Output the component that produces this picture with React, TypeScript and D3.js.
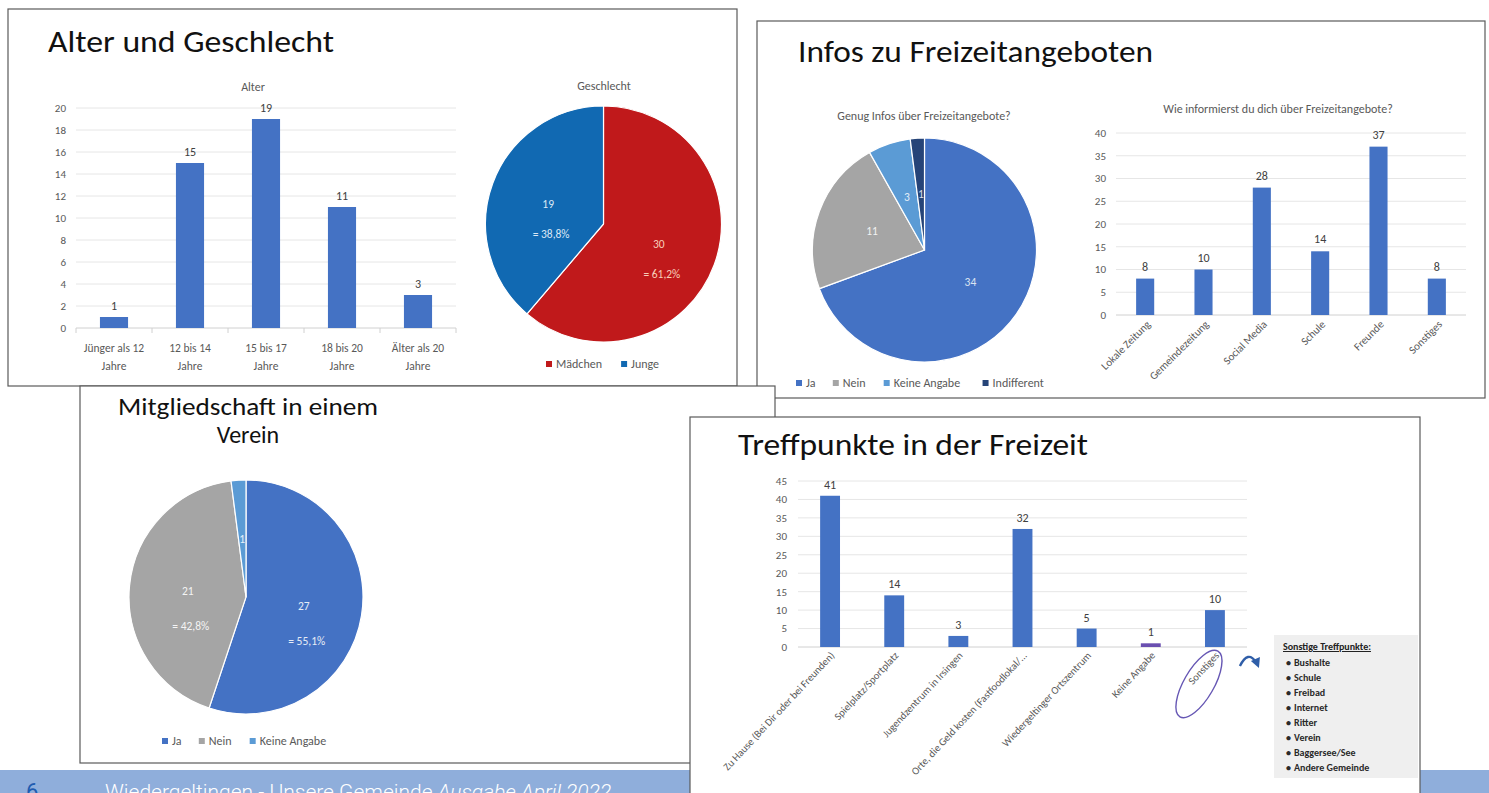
import React from "react";
import * as d3 from "d3";

const FONT = "Carlito, Lato, 'Open Sans', sans-serif";

// Alter und Geschlecht
const ageGroups = ["Jünger als 12 Jahre", "12 bis 14 Jahre", "15 bis 17 Jahre", "18 bis 20 Jahre", "Älter als 20 Jahre"];
const ageCounts = [1, 15, 19, 11, 3];
const ageTicks = [0, 2, 4, 6, 8, 10, 12, 14, 16, 18, 20];
const genderNames = ["Mädchen", "Junge"];
const genderCounts = [30, 19];
const genderShares = ["= 61,2%", "= 38,8%"];
const genderColors = ["#C0191B", "#1169B2"];

// Infos zu Freizeitangeboten
const infoAnswers = ["Ja", "Nein", "Keine Angabe", "Indifferent"];
const infoCounts = [34, 11, 3, 1];
const answerColors = ["#4472C4", "#A5A5A5", "#5B9BD5", "#264478"];
const channelNames = ["Lokale Zeitung", "Gemeindezeitung", "Social Media", "Schule", "Freunde", "Sonstiges"];
const channelCounts = [8, 10, 28, 14, 37, 8];
const channelTicks = [0, 5, 10, 15, 20, 25, 30, 35, 40];

// Mitgliedschaft in einem Verein
const clubAnswers = ["Ja", "Nein", "Keine Angabe"];
const clubCounts = [27, 21, 1];
const clubShares = ["= 55,1%", "= 42,8%", ""];

// Treffpunkte in der Freizeit
const placeNames = [
  "Zu Hause (Bei Dir oder bei Freunden)",
  "Spielplatz/Sportplatz",
  "Jugendzentrum in Irsingen",
  "Orte, die Geld kosten (Fastfoodlokal/...",
  "Wiedergeltinger Ortszentrum",
  "Keine Angabe",
  "Sonstiges",
];
const placeCounts = [41, 14, 3, 32, 5, 1, 10];
const placeTicks = [0, 5, 10, 15, 20, 25, 30, 35, 40, 45];
const otherPlaces = ["Bushalte", "Schule", "Freibad", "Internet", "Ritter", "Verein", "Baggersee/See", "Andere Gemeinde"];

const BLUE = "#4472C4";
const GREY_TEXT = "#595959";

let ctx: CanvasRenderingContext2D | null = null;
function textWidth(s: string, size: number) {
  if (!ctx) ctx = document.createElement("canvas").getContext("2d");
  if (!ctx) return s.length * size * 0.5;
  ctx.font = `${size}px Lato`;
  return ctx.measureText(s).width;
}

type BarProps = {
  names: string[];
  counts: number[];
  ticks: number[];
  left: number;
  right: number;
  top: number;
  bottom: number;
  pad: number;
  tickX: number;
  valueGap: number;
  color: (i: number) => string;
  catLabel: (name: string, cx: number, i: number) => React.ReactNode;
  catTicks?: boolean;
};

function BarChart(p: BarProps) {
  const x = d3.scaleBand<string>().domain(p.names).range([p.left, p.right]).paddingInner(p.pad).paddingOuter(p.pad / 2);
  const y = d3.scaleLinear().domain([0, d3.max(p.ticks)!]).range([p.bottom, p.top]);
  const bw = x.bandwidth();
  return (
    <g>
      {p.ticks.map((t) => (
        <g key={t}>
          <line x1={p.left} x2={p.right} y1={y(t)} y2={y(t)} stroke={t === 0 ? "#D0D0D0" : "#E6E6E6"} />
          <text x={p.tickX} y={y(t)} dy="0.35em" textAnchor="end" fontSize={11} fill={GREY_TEXT}>{t}</text>
        </g>
      ))}
      {p.catTicks &&
        d3.range(p.names.length + 1).map((i) => {
          const xx = p.left + i * x.step();
          return <line key={i} x1={xx} x2={xx} y1={y(0)} y2={y(0) + 5} stroke="#D0D0D0" />;
        })}
      {p.names.map((n, i) => {
        const v = p.counts[i];
        const x0 = x(n)!;
        return (
          <g key={n}>
            <rect x={x0} y={y(v)} width={bw} height={y(0) - y(v)} fill={p.color(i)} />
            <text x={x0 + bw / 2} y={y(v) - p.valueGap} textAnchor="middle" fontSize={12} fill="#404040">{v}</text>
            {p.catLabel(n, x0 + bw / 2, i)}
          </g>
        );
      })}
    </g>
  );
}

type PieProps = {
  cx: number;
  cy: number;
  r: number;
  counts: number[];
  colors: string[];
  shares?: string[];
  labelColors: string[];
  subDy: number;
};

function Pie(p: PieProps) {
  const arcs = d3.pie<number>().sort(null).value((d) => d)(p.counts);
  const arc = d3.arc<d3.PieArcDatum<number>>().innerRadius(0).outerRadius(p.r);
  const lab = d3.arc<d3.PieArcDatum<number>>().innerRadius(p.r * 0.5).outerRadius(p.r * 0.5);
  return (
    <g transform={`translate(${p.cx},${p.cy})`}>
      {arcs.map((a, i) => (
        <path key={i} d={arc(a)!} fill={p.colors[i]} stroke="#fff" strokeWidth={1.2} />
      ))}
      {arcs.map((a, i) => {
        const [lx, ly] = lab.centroid(a);
        return (
          <g key={"l" + i} fill={p.labelColors[i]} fontSize={11.5} textAnchor="middle">
            <text x={lx} y={ly} dy="0.35em">{a.data}</text>
            {p.shares && p.shares[i] && (
              <text x={lx + 3} y={ly + p.subDy} dy="0.35em">{p.shares[i]}</text>
            )}
          </g>
        );
      })}
    </g>
  );
}

function Legend({ x, y, names, colors }: { x: number; y: number; names: string[]; colors: string[] }) {
  let cur = x;
  const items = names.map((n, i) => {
    const x0 = cur;
    cur += 6 + 4 + textWidth(n, 12) + 16;
    return (
      <g key={n}>
        <rect x={x0} y={y - 3} width={6} height={6} fill={colors[i]} />
        <text x={x0 + 10} y={y} dy="0.35em" fontSize={12} fill={GREY_TEXT}>{n}</text>
      </g>
    );
  });
  return <g>{items}</g>;
}

function Panel({ x, y, w, h }: { x: number; y: number; w: number; h: number }) {
  return <rect x={x} y={y} width={w} height={h} fill="#fff" stroke="#5A5A5A" strokeWidth={1.2} />;
}

export default function App() {
  const placeX = d3.scaleBand<string>().domain(placeNames).range([798, 1247]).paddingInner(0.69).paddingOuter(0.345);
  const otherCx = placeX("Sonstiges")! + placeX.bandwidth() / 2;

  return (
    <svg width={1489} height={793} style={{ position: "fixed", left: 0, top: 0 }} fontFamily={FONT}>
      <rect width={1489} height={793} fill="#fff" />

      {/* Alter und Geschlecht */}
      <Panel x={8} y={9} w={729} h={377} />
      <text x={48} y={52} fontSize={30} fill="#111" textLength={286} lengthAdjust="spacingAndGlyphs">Alter und Geschlecht</text>
      <text x={253} y={91} textAnchor="middle" fontSize={12} fill={GREY_TEXT}>Alter</text>
      <BarChart
        names={ageGroups}
        counts={ageCounts}
        ticks={ageTicks}
        left={76}
        right={456}
        top={108}
        bottom={328}
        pad={0.63}
        tickX={66}
        valueGap={7}
        catTicks
        color={() => BLUE}
        catLabel={(n, cx) => {
          const parts = n.split(" Jahre");
          return (
            <g fontSize={11.5} fill={GREY_TEXT} textAnchor="middle">
              <text x={cx} y={348} dy="0.35em">{parts[0]}</text>
              <text x={cx} y={366} dy="0.35em">Jahre</text>
            </g>
          );
        }}
      />
      <text x={604} y={90} textAnchor="middle" fontSize={12} fill={GREY_TEXT}>Geschlecht</text>
      <Pie cx={603.5} cy={224} r={118} counts={genderCounts} colors={genderColors} shares={genderShares}
        labelColors={["#F7CDB8", "#DCE8F6"]} subDy={30} />
      <Legend x={546} y={364} names={genderNames} colors={genderColors} />

      {/* Infos zu Freizeitangeboten */}
      <Panel x={757} y={21} w={728} h={377} />
      <text x={798} y={62} fontSize={30} fill="#111" textLength={355} lengthAdjust="spacingAndGlyphs">Infos zu Freizeitangeboten</text>
      <text x={924} y={120} textAnchor="middle" fontSize={12} fill={GREY_TEXT}>Genug Infos über Freizeitangebote?</text>
      <Pie cx={924.5} cy={250} r={112} counts={infoCounts} colors={answerColors}
        labelColors={["#DCE4F2", "#F2F2F2", "#E4EEF8", "#D8DEEA"]} subDy={0} />
      <Legend x={796} y={383} names={infoAnswers} colors={answerColors} />
      <text x={1278} y={113} textAnchor="middle" fontSize={12} fill={GREY_TEXT}>Wie informierst du dich über Freizeitangebote?</text>
      <BarChart
        names={channelNames}
        counts={channelCounts}
        ticks={channelTicks}
        left={1116}
        right={1466}
        top={133}
        bottom={315}
        pad={0.69}
        tickX={1106}
        valueGap={8}
        color={() => BLUE}
        catLabel={(n, cx) => (
          <text x={cx + 6} y={325} transform={`rotate(-45 ${cx + 6} 325)`} textAnchor="end" fontSize={11} fill={GREY_TEXT}>{n}</text>
        )}
      />

      {/* Mitgliedschaft in einem Verein */}
      <Panel x={80} y={386} w={695} h={377} />
      <text x={248} y={415} textAnchor="middle" fontSize={24} fill="#111" textLength={260} lengthAdjust="spacingAndGlyphs">Mitgliedschaft in einem</text>
      <text x={248} y={443} textAnchor="middle" fontSize={24} fill="#111">Verein</text>
      <Pie cx={246} cy={597} r={117} counts={clubCounts} colors={answerColors.slice(0, 3)} shares={clubShares}
        labelColors={["#E6ECF6", "#F4F4F4", "#E6F0FA"]} subDy={35} />
      <Legend x={162} y={741} names={clubAnswers} colors={answerColors.slice(0, 3)} />

      {/* Footer */}
      <rect x={0} y={770} width={690} height={23} fill="#8FAEDB" />
      <rect x={1420} y={770} width={69} height={23} fill="#8FAEDB" />
      <text x={26} y={799} fontSize={22} fontFamily="Roboto, sans-serif" fill="#1E5BB0">6</text>
      <text x={105} y={799} fontSize={21} fontFamily="Roboto, sans-serif" fontWeight={300} fill="#fff">
        Wiedergeltingen - Unsere Gemeinde <tspan fontStyle="italic">Ausgabe April 2022</tspan>
      </text>

      {/* Treffpunkte in der Freizeit */}
      <Panel x={690} y={417} w={730} h={400} />
      <text x={738} y={455} fontSize={30} fill="#111" textLength={350} lengthAdjust="spacingAndGlyphs">Treffpunkte in der Freizeit</text>
      <BarChart
        names={placeNames}
        counts={placeCounts}
        ticks={placeTicks}
        left={798}
        right={1247}
        top={481}
        bottom={647}
        pad={0.69}
        tickX={787}
        valueGap={7}
        color={(i) => (placeNames[i] === "Keine Angabe" ? "#6A4FB0" : BLUE)}
        catLabel={(n, cx) => (
          <text x={cx + 5} y={656} transform={`rotate(-47 ${cx + 5} 656)`} textAnchor="end" fontSize={10.5} fill={GREY_TEXT}>{n}</text>
        )}
      />
      <ellipse cx={otherCx - 16} cy={684} rx={38} ry={15} transform={`rotate(-60 ${otherCx - 16} 684)`}
        fill="none" stroke="#6657B4" strokeWidth={1.4} />
      <path d={`M${otherCx + 25},666 Q${otherCx + 33},650 ${otherCx + 41},662`} fill="none" stroke="#2F5EA8" strokeWidth={2.4} />
      <path d={`M${otherCx + 36},661 L${otherCx + 44},668 L${otherCx + 45},657 Z`} fill="#2F5EA8" />
      <rect x={1274} y={635} width={144} height={143} fill="#EFEFEF" />
      <text x={1283} y={650} fontSize={10} fontWeight={700} fill="#222" textDecoration="underline">Sonstige Treffpunkte:</text>
      {otherPlaces.map((s, i) => (
        <g key={s} fontSize={10} fontWeight={700} fill="#2A2A2A">
          <text x={1286} y={662 + i * 15} dy="0.35em">•</text>
          <text x={1294} y={662 + i * 15} dy="0.35em">{s}</text>
        </g>
      ))}
    </svg>
  );
}
